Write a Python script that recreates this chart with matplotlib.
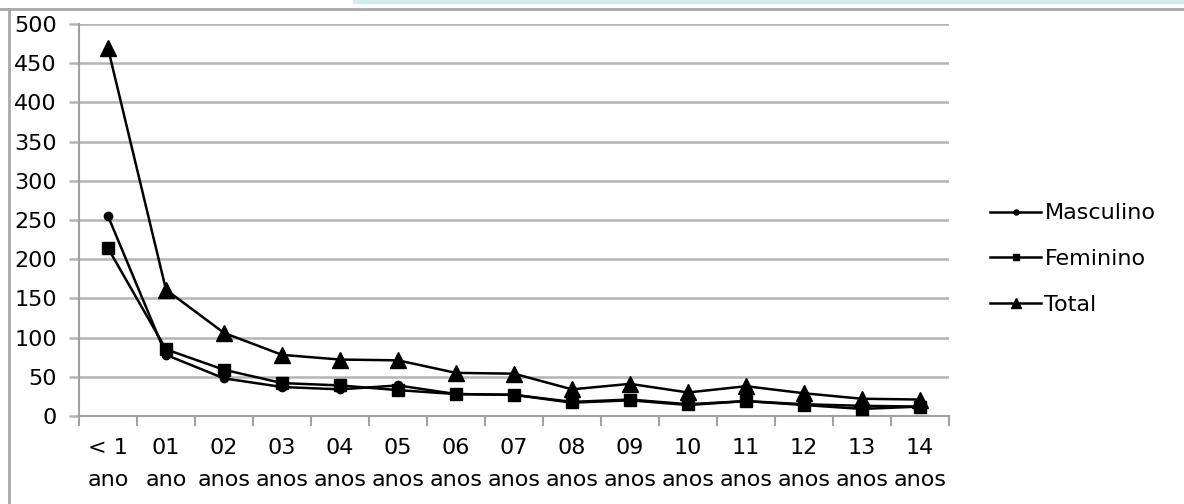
import matplotlib.pyplot as plt
from matplotlib.lines import Line2D

# categories (age groups)
categorias = ['< 1\nano', '01\nano', '02\nanos', '03\nanos', '04\nanos', '05\nanos',
              '06\nanos', '07\nanos', '08\nanos', '09\nanos', '10\nanos', '11\nanos',
              '12\nanos', '13\nanos', '14\nanos']

masculino = [255, 78, 48, 37, 34, 39, 28, 27, 17, 20, 14, 19, 15, 13, 12]
feminino = [214, 85, 59, 42, 39, 33, 28, 27, 18, 21, 15, 19, 14, 9, 12]
total = [469, 161, 106, 78, 72, 71, 55, 54, 34, 41, 30, 38, 29, 22, 21]

y_ticks = list(range(0, 501, 50))

plt.rcParams['font.family'] = ['DejaVu Sans']
W, H = 1184, 504
fig = plt.figure(figsize=(W / 100, H / 100), dpi=100)
ax = fig.add_axes([79 / W, 1 - 416 / H, (949 - 79) / W, (416 - 24) / H])

x = list(range(len(categorias)))
ax.plot(x, masculino, color='black', lw=1.8, marker='o', ms=6, label='Masculino', zorder=3)
ax.plot(x, feminino, color='black', lw=1.8, marker='s', ms=8, label='Feminino', zorder=3)
ax.plot(x, total, color='black', lw=1.8, marker='^', ms=12, label='Total', zorder=3)

ax.set_xlim(-0.5, len(categorias) - 0.5)
ax.set_ylim(0, 500)
ax.set_yticks(y_ticks)
ax.set_yticklabels([str(v) for v in y_ticks], fontsize=16)
ax.yaxis.grid(True, color='#b4b4b4', lw=1.8)
ax.set_axisbelow(True)
ax.tick_params(axis='y', length=7, width=1.8, color='#b4b4b4', pad=9)

ax.set_xticks(x)
ax.set_xticklabels(categorias, fontsize=16, linespacing=1.75)
ax.set_xticks([i - 0.5 for i in range(len(categorias) + 1)], minor=True)
ax.tick_params(axis='x', which='major', length=0, pad=16)
ax.tick_params(axis='x', which='minor', length=7, width=1.5, color='#a0a0a0')

for s in ['top', 'right']:
    ax.spines[s].set_visible(False)
ax.spines['left'].set_color('#a0a0a0')
ax.spines['left'].set_linewidth(1.5)
ax.spines['bottom'].set_color('#a0a0a0')
ax.spines['bottom'].set_linewidth(1.5)

leg = fig.legend(loc='center left', bbox_to_anchor=(970 / W, 1 - 259 / H), frameon=False,
                 fontsize=16, handlelength=2.3, labelspacing=1.15, handletextpad=0.15,
                 markerscale=0.6)

# outer chart border
fig.add_artist(Line2D([0, 1], [1 - 9 / H, 1 - 9 / H], color='#a8a8a8', lw=2))
fig.add_artist(Line2D([8.5 / W, 8.5 / W], [0, 1 - 9 / H], color='#a8a8a8', lw=2))
fig.add_artist(Line2D([0.3, 1], [1 - 2 / H, 1 - 2 / H], color='#d4ecec', lw=3))

fig.savefig('out.png', dpi=100)
